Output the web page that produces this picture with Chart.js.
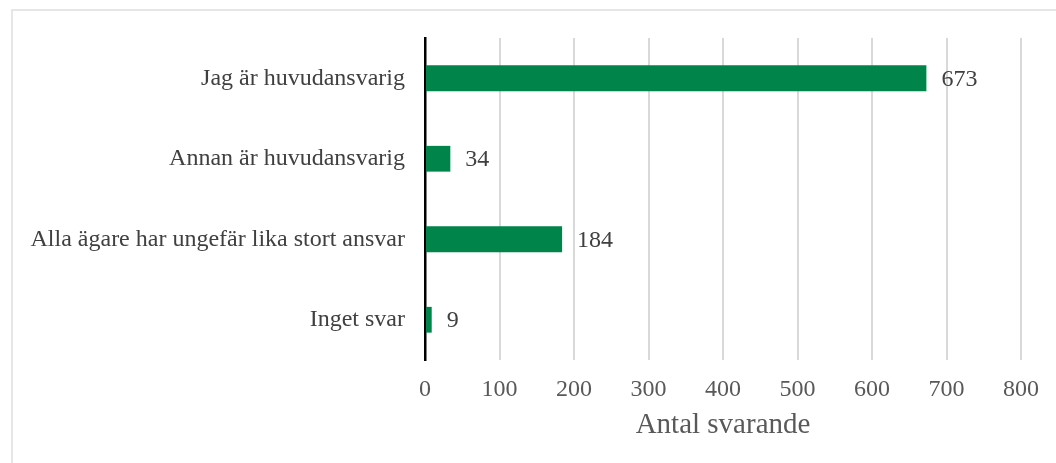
<!DOCTYPE html>
<html>
<head>
<meta charset="utf-8">
<script src="https://cdn.jsdelivr.net/npm/chart.js@4.4.1/dist/chart.umd.min.js"></script>
<style>
    html, body { margin: 0; padding: 0; background: #fff; overflow: hidden; }
    #wrap { position: relative; width: 1056px; height: 463px; }
    #frame {
        position: absolute; left: 11px; top: 9px;
        width: 1060px; height: 470px;
        border: 2px solid #e6e6e6; box-sizing: border-box;
    }
    canvas { position: absolute; left: 0; top: 0; }
</style>
</head>
<body>
<div id="wrap">
    <div id="frame"></div>
    <canvas id="chart" width="1056" height="463"></canvas>
</div>
<script>
const categories = [
    'Jag är huvudansvarig',
    'Annan är huvudansvarig',
    'Alla ägare har ungefär lika stort ansvar',
    'Inget svar'
];
const values = [673, 34, 184, 9];
const xTicks = [0, 100, 200, 300, 400, 500, 600, 700, 800];
const axisTitle = 'Antal svarande';

const serif = "'Liberation Serif', 'Times New Roman', serif";

// Draw the value next to each bar
const valueLabels = {
    id: 'valueLabels',
    afterDatasetsDraw(chart) {
        const ctx = chart.ctx;
        const meta = chart.getDatasetMeta(0);
        ctx.save();
        ctx.font = '24px ' + serif;
        ctx.fillStyle = '#404040';
        ctx.textAlign = 'left';
        ctx.textBaseline = 'middle';
        meta.data.forEach((bar, i) => {
            ctx.fillText(String(values[i]), bar.x + 15, bar.y + 1);
        });
        ctx.restore();
    }
};

const ctx = document.getElementById('chart').getContext('2d');
new Chart(ctx, {
    type: 'bar',
    data: {
        labels: categories,
        datasets: [{
            data: values,
            backgroundColor: '#00844A',
            barPercentage: 0.64,
            categoryPercentage: 0.5
        }]
    },
    options: {
        indexAxis: 'y',
        responsive: false,
        animation: false,
        layout: { padding: { top: 38, right: 35, bottom: 0, left: 0 } },
        plugins: {
            legend: { display: false },
            tooltip: { enabled: false }
        },
        scales: {
            x: {
                min: 0,
                max: 800,
                afterBuildTicks: scale => {
                    scale.ticks = xTicks.map(v => ({ value: v }));
                },
                afterFit: scale => { scale.height = 463 - 360; },
                grid: { color: '#d9d9d9', lineWidth: 2, drawTicks: false },
                border: { display: false },
                ticks: {
                    padding: 15,
                    color: '#595959',
                    font: { family: serif, size: 24 }
                },
                title: {
                    display: true,
                    text: axisTitle,
                    color: '#595959',
                    font: { family: serif, size: 29 },
                    padding: { top: 0, bottom: 20 }
                }
            },
            y: {
                afterFit: scale => { scale.width = 425; },
                grid: { display: false, drawTicks: false },
                border: { display: true, color: '#000', width: 2.5 },
                ticks: {
                    padding: 20,
                    color: '#404040',
                    font: { family: serif, size: 24 }
                }
            }
        }
    },
    plugins: [valueLabels]
});
</script>
</body>
</html>
